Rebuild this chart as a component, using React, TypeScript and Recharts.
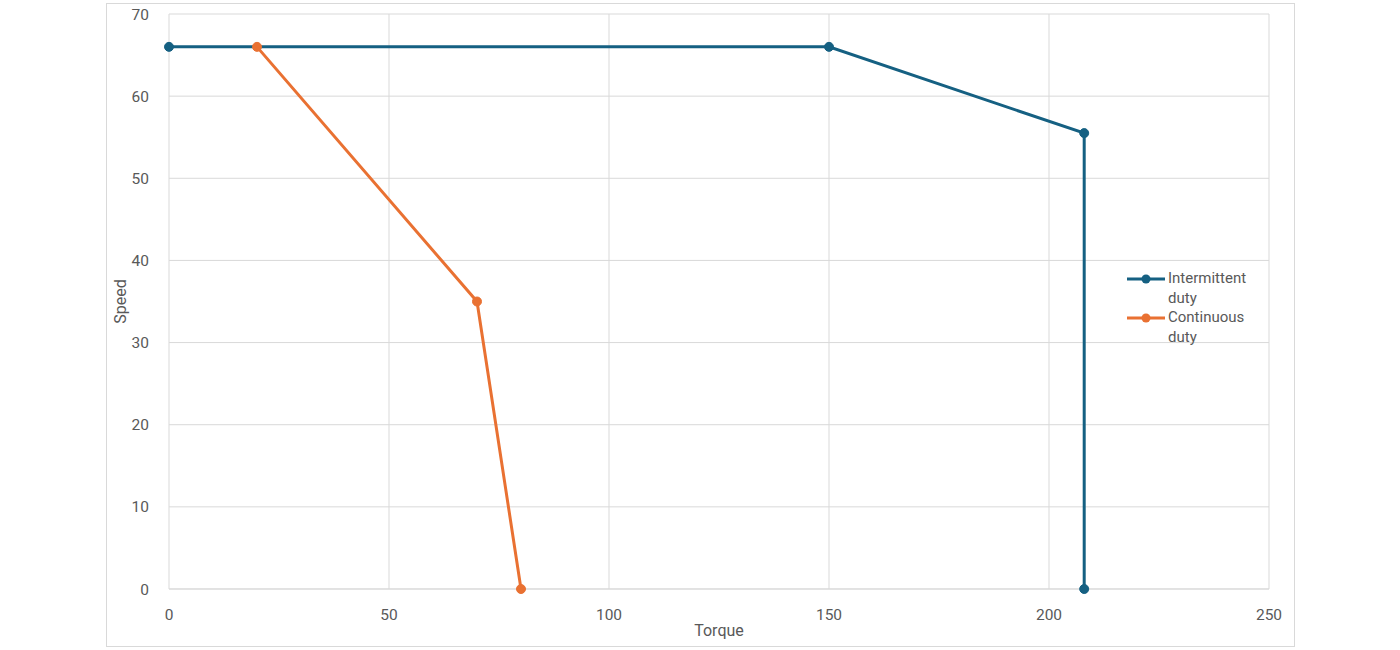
import React from "react";
import { LineChart, Line, XAxis, YAxis, CartesianGrid, Label } from "recharts";

const intermittentTorque = [0, 150, 208, 208];
const intermittentSpeed = [66, 66, 55.5, 0];
const continuousTorque = [20, 70, 80];
const continuousSpeed = [66, 35, 0];
const xTicks = [0, 50, 100, 150, 200, 250];
const yTicks = [0, 10, 20, 30, 40, 50, 60, 70];
const seriesNames = ["Intermittent duty", "Continuous duty"];

const BLUE = "#156082";
const ORANGE = "#E97132";
const TEXT = "#595959";
const GRID = "#D9D9D9";
const FONT = "Roboto, 'Open Sans', sans-serif";

const intermittent = intermittentTorque.map((x, i) => ({ x, y: intermittentSpeed[i] }));
const continuous = continuousTorque.map((x, i) => ({ x, y: continuousSpeed[i] }));

const LegendBox = () => {
  const items = [
    { name: seriesNames[0], color: BLUE },
    { name: seriesNames[1], color: ORANGE },
  ];
  return (
    <div
      style={{
        position: "absolute",
        left: 1126,
        top: 269,
        width: 150,
        fontFamily: FONT,
        fontSize: 15,
        color: TEXT,
        lineHeight: "19.7px",
      }}
    >
      {items.map((it) => {
        const [a, b] = it.name.split(" ");
        return (
          <div key={it.name} style={{ display: "flex", alignItems: "flex-start" }}>
            <svg width={40} height={20} style={{ flex: "none" }}>
              <line x1={1} y1={10} x2={39} y2={10} stroke={it.color} strokeWidth={3} />
              <circle cx={20} cy={10} r={4.5} fill={it.color} />
            </svg>
            <div style={{ marginLeft: 2 }}>
              <div>{a}</div>
              <div>{b}</div>
            </div>
          </div>
        );
      })}
    </div>
  );
};

export default function App() {
  return (
    <div style={{ position: "absolute", left: 0, top: 0, width: 1400, height: 650, background: "#fff" }}>
      <div
        style={{
          position: "absolute",
          left: 106,
          top: 3,
          width: 1187,
          height: 642,
          border: `1px solid ${GRID}`,
        }}
      />
      <div style={{ position: "absolute", left: 0, top: 0 }}>
        <LineChart width={1400} height={650} margin={{ top: 14, right: 131, bottom: 11, left: 109 }}>
          <CartesianGrid stroke={GRID} strokeWidth={1} />
          <XAxis
            type="number"
            dataKey="x"
            domain={[0, 250]}
            ticks={xTicks}
            height={50}
            axisLine={{ stroke: GRID }}
            tickLine={false}
            tick={{ fill: TEXT, fontSize: 15.5, fontFamily: FONT }}
            tickMargin={14}
          >
            <Label value="Torque" position="insideBottom" offset={3} fill={TEXT} fontSize={16} fontFamily={FONT} />
          </XAxis>
          <YAxis
            type="number"
            dataKey="y"
            domain={[0, 70]}
            ticks={yTicks}
            width={60}
            axisLine={false}
            tickLine={false}
            tick={{ fill: TEXT, fontSize: 15.5, fontFamily: FONT }}
            tickMargin={14}
          >
            <Label value="Speed" angle={-90} position="insideLeft" offset={11} fill={TEXT} fontSize={16} fontFamily={FONT} style={{ textAnchor: "middle" }} />
          </YAxis>
          <Line
            data={intermittent}
            dataKey="y"
            name={seriesNames[0]}
            stroke={BLUE}
            strokeWidth={3}
            dot={{ r: 4.5, fill: BLUE, stroke: BLUE, strokeWidth: 1 }}
            activeDot={false}
            isAnimationActive={false}
          />
          <Line
            data={continuous}
            dataKey="y"
            name={seriesNames[1]}
            stroke={ORANGE}
            strokeWidth={3}
            dot={{ r: 4.5, fill: ORANGE, stroke: ORANGE, strokeWidth: 1 }}
            activeDot={false}
            isAnimationActive={false}
          />
        </LineChart>
      </div>
      <LegendBox />
    </div>
  );
}
